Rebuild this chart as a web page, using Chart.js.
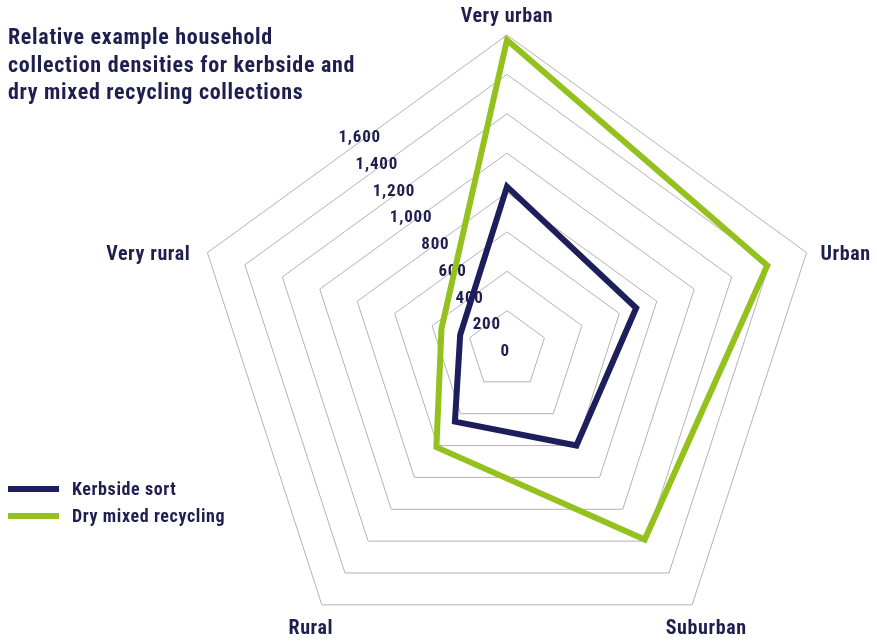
<!DOCTYPE html>
<html>
<head>
<meta charset="utf-8">
<script src="https://cdn.jsdelivr.net/npm/chart.js@4.4.1/dist/chart.umd.min.js"></script>
<style>
  html, body { margin: 0; padding: 0; background: #ffffff; overflow: hidden; }
  #wrap { position: relative; width: 877px; height: 700px; }
  #chart { position: absolute; left: 0; top: 0; }
  #title {
    position: absolute; left: 8px; top: 23px;
    font-family: "Liberation Sans Narrow", "Roboto Condensed", Roboto, sans-serif;
    font-weight: bold; font-size: 22px; letter-spacing: 0.7px; line-height: 27.5px; color: #1e1f4f;
    white-space: nowrap;
  }
  #legend { position: absolute; left: 8px; top: 475px; }
  .lg-row { display: flex; align-items: center; height: 27px; }
  .lg-line { width: 51px; height: 6px; margin-right: 13px; }
  .lg-text {
    font-family: "Liberation Sans Narrow", "Roboto Condensed", Roboto, sans-serif;
    font-weight: bold; font-size: 18px; letter-spacing: 0.6px; color: #1e1f4f; white-space: nowrap;
  }
</style>
</head>
<body>
<div id="wrap">
  <canvas id="chart"></canvas>
  <div id="title"></div>
  <div id="legend"></div>
</div>
<script>
const categories = ['Very urban', 'Urban', 'Suburban', 'Rural', 'Very rural'];
const seriesNames = ['Kerbside sort', 'Dry mixed recycling'];
const kerbsideSort = [830, 690, 600, 450, 250];
const dryMixedRecycling = [1575, 1390, 1190, 610, 350];
const tickValues = [0, 200, 400, 600, 800, 1000, 1200, 1400, 1600];
const titleLines = ['Relative example household', 'collection densities for kerbside and', 'dry mixed recycling collections'];

const NAVY = '#1c1f5c';
const GREEN = '#95c11f';
const TEXT = '#1e1f4f';
const FONT = '"Liberation Sans Narrow", "Roboto Condensed", Roboto, sans-serif';

document.getElementById('title').innerHTML = titleLines.join('<br>');

const labelPlugin = {
  id: 'customLabels',
  beforeDatasetsDraw(chart) {
    const s = chart.scales.r;
    const ctx = chart.ctx;
    ctx.save();
    ctx.fillStyle = TEXT;
    ctx.font = 'bold 17px ' + FONT;
    ctx.letterSpacing = '0.8px';
    ctx.textAlign = 'right';
    ctx.textBaseline = 'middle';
    s.ticks.forEach(t => {
      const d = s.getDistanceFromCenterForValue(t.value);
      const x = Math.min(s.xCenter + 3, s.xCenter + 11 - d * 0.435);
      ctx.fillText(t.label, x, s.yCenter + 2 - d * 0.68);
    });
    ctx.restore();
  },
  afterDraw(chart) {
    const s = chart.scales.r;
    const ctx = chart.ctx;
    ctx.save();
    ctx.fillStyle = TEXT;
    ctx.font = 'bold 20px ' + FONT;
    ctx.letterSpacing = '0.6px';
    ctx.textBaseline = 'alphabetic';
    const place = [
      { align: 'center', dx: 0, dy: -13 },
      { align: 'left', dx: 14, dy: 7 },
      { align: 'center', dx: 14, dy: 29 },
      { align: 'center', dx: -11, dy: 29 },
      { align: 'right', dx: -17, dy: 7 }
    ];
    chart.data.labels.forEach((lab, i) => {
      const p = s.getPointPosition(i, s.drawingArea);
      ctx.textAlign = place[i].align;
      ctx.fillText(lab, p.x + place[i].dx, p.y + place[i].dy);
    });
    ctx.restore();
  }
};

const chart = new Chart(document.getElementById('chart'), {
  type: 'radar',
  data: {
    labels: categories,
    datasets: [
      { label: seriesNames[0], data: kerbsideSort, borderColor: NAVY, backgroundColor: 'transparent',
        borderWidth: 6, pointRadius: 0, fill: false },
      { label: seriesNames[1], data: dryMixedRecycling, borderColor: GREEN, backgroundColor: 'transparent',
        borderWidth: 6, pointRadius: 0, fill: false }
    ]
  },
  options: {
    responsive: true,
    maintainAspectRatio: false,
    animation: false,
    devicePixelRatio: 1,
    layout: { padding: { left: 192, right: 55, top: 35, bottom: 35 } },
    plugins: { legend: { display: false }, title: { display: false }, tooltip: { enabled: false } },
    scales: {
      r: {
        min: tickValues[0],
        max: tickValues[tickValues.length - 1],
        afterBuildTicks: (scale) => { scale.ticks = tickValues.map(v => ({ value: v, label: v.toLocaleString('en-US') })); },
        ticks: { display: false },
        grid: { color: '#b3b3b3', lineWidth: 1 },
        angleLines: { display: false },
        pointLabels: { display: false }
      }
    }
  },
  plugins: [labelPlugin]
});

chart.scales.r.ticks.forEach(t => { t.label = t.value.toLocaleString('en-US'); });
chart.draw();

const legendEl = document.getElementById('legend');
chart.data.datasets.forEach(ds => {
  const row = document.createElement('div');
  row.className = 'lg-row';
  const line = document.createElement('div');
  line.className = 'lg-line';
  line.style.background = ds.borderColor;
  const txt = document.createElement('div');
  txt.className = 'lg-text';
  txt.textContent = ds.label;
  row.appendChild(line);
  row.appendChild(txt);
  legendEl.appendChild(row);
});
</script>
</body>
</html>
